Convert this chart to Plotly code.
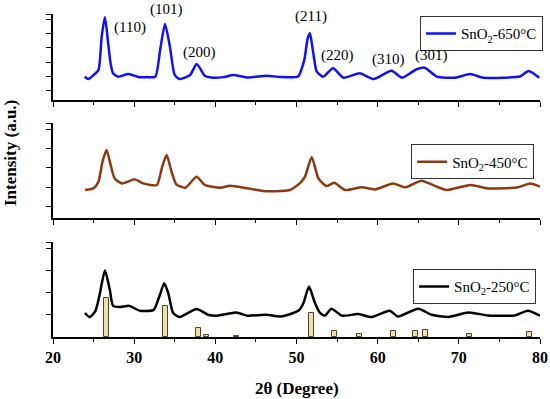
import plotly.graph_objects as go

# ---------------- data ----------------
x650 = [23.9, 24.35, 25.0, 25.6, 26.0, 26.4, 26.8, 27.1, 27.4, 28.0, 29.3, 30.5, 31.5, 32.6, 33.2, 33.8,
        34.4, 35.0, 35.6, 36.9, 37.7, 38.7, 39.5, 41.0, 42.2, 44.0, 46.3, 48.0, 50.2, 50.96, 51.38,
        51.66, 52.07, 52.5, 53.3, 54.5, 55.8, 57.8, 59.5, 61.7, 63.0, 64.8, 65.8, 67.3, 69.5, 71.4,
        73.0, 75.5, 77.5, 78.6, 79.9]
y650 = [0.98, 0.82, 1.10, 1.45, 3.78, 5.13, 3.31, 1.9, 1.22, 0.98, 1.17, 0.96, 0.95, 0.98, 2.85, 4.66,
        3.08, 1.10, 0.82, 1.10, 1.87, 1.05, 0.92, 0.95, 1.10, 0.92, 1.05, 0.96, 1.0, 2.15, 3.66,
        4.01, 2.62, 1.33, 0.98, 1.57, 0.91, 1.22, 0.82, 1.40, 0.91, 1.50, 1.61, 0.98, 0.91, 1.17,
        0.91, 0.91, 0.99, 1.38, 0.91]

x450 = [23.94, 24.97, 25.6, 26.1, 26.6, 27.1, 27.6, 28.5, 30.1, 31.1, 32.8, 33.4, 34.0, 34.6, 35.2,
        36.3, 37.7, 38.7, 40.6, 41.8, 43.9, 45.9, 48.0, 49.2, 50.4, 51.05, 51.87, 52.7, 53.7, 54.65,
        56.0, 58.0, 59.7, 61.9, 63.4, 65.4, 67.1, 68.5, 71.4, 73.6, 77.3, 78.8, 80.0]
y450 = [0.85, 0.93, 1.28, 2.32, 2.92, 2.15, 1.45, 1.19, 1.40, 1.19, 1.11, 1.97, 2.66, 1.80, 1.14,
        0.97, 1.54, 1.11, 0.97, 1.07, 0.94, 0.80, 0.80, 0.85, 1.19, 1.54, 2.55, 1.45, 1.05, 1.23,
        0.85, 0.99, 0.88, 1.19, 0.99, 1.33, 1.05, 0.85, 1.11, 0.93, 0.99, 1.19, 1.02]

x250 = [23.94, 24.5, 25.2, 25.7, 26.4, 27.0, 27.4, 28.25, 29.4, 30.7, 32.4, 33.1, 33.7, 34.2, 34.8,
        35.6, 37.7, 39.1, 40.2, 42.6, 43.9, 46.3, 48.0, 49.6, 50.3, 50.85, 51.54, 52.2, 52.9, 53.5,
        54.3, 55.6, 57.6, 59.3, 61.5, 62.5, 65.0, 66.65, 68.7, 71.2, 73.6, 76.9, 78.5, 80.0]
y250 = [1.08, 0.90, 1.15, 1.82, 2.99, 2.12, 1.40, 1.35, 1.40, 1.18, 1.22, 1.82, 2.42, 1.97, 1.08,
        0.90, 1.26, 1.00, 0.96, 1.10, 0.96, 1.00, 0.92, 1.08, 1.20, 1.52, 2.27, 1.60, 1.08, 0.96,
        1.27, 0.96, 1.03, 0.90, 1.18, 0.92, 1.27, 1.00, 0.90, 1.10, 0.97, 0.97, 1.18, 0.96]

ref_pos = [26.6, 33.9, 37.9, 38.9, 42.6, 51.8, 54.7, 57.8, 61.9, 64.7, 65.9, 71.3, 78.7]
ref_int = [1.75, 1.40, 0.40, 0.07, 0.03, 1.10, 0.28, 0.13, 0.25, 0.27, 0.33, 0.13, 0.21]

peak_labels = ["(110)", "(101)", "(200)", "(211)", "(220)", "(310)", "(301)"]
peak_label_x = [29.5, 34.0, 38.1, 51.8, 55.05, 61.3, 66.65]
peak_label_yp = [0.957, 1.015, 0.882, 0.991, 0.870, 0.858, 0.870]

series_names = ["SnO<sub>2</sub>-650°C", "SnO<sub>2</sub>-450°C", "SnO<sub>2</sub>-250°C"]
series_colors = ["#1212EE", "#8B3A12", "#000000"]

FONT = "Liberation Serif"

fig = go.Figure()

fig.add_trace(go.Bar(x=ref_pos, y=ref_int, width=0.6, xaxis="x", yaxis="y",
                     marker=dict(color="#F4E0A6", line=dict(color="#4a4530", width=1)),
                     showlegend=False))
fig.add_trace(go.Scatter(x=x250, y=y250, mode="lines", name=series_names[2], xaxis="x", yaxis="y",
                         line=dict(color=series_colors[2], width=2.5, shape="spline", smoothing=0.6),
                         legend="legend3"))
fig.add_trace(go.Scatter(x=x450, y=y450, mode="lines", name=series_names[1], xaxis="x2", yaxis="y2",
                         line=dict(color=series_colors[1], width=2.5, shape="spline", smoothing=0.6),
                         legend="legend2"))
fig.add_trace(go.Scatter(x=x650, y=y650, mode="lines", name=series_names[0], xaxis="x3", yaxis="y3",
                         line=dict(color=series_colors[0], width=2.5, shape="spline", smoothing=0.6),
                         legend="legend"))

xcommon = dict(range=[20, 80], dtick=10, ticks="outside", ticklen=5, tickwidth=1.3,
               showline=True, linecolor="black", linewidth=1.5, showgrid=False, zeroline=False,
               minor=dict(dtick=5, ticks="outside", ticklen=3, tickwidth=1.3, tickcolor="black"),
               tickcolor="black", automargin=False)
ycommon = dict(ticks="outside", ticklen=5, tickwidth=1.3, tickcolor="black", showline=True,
               linecolor="black", linewidth=1.5, showgrid=False, zeroline=False, showticklabels=False,
               automargin=False)

legcommon = dict(bordercolor="#333333", borderwidth=1, bgcolor="white",
                 font=dict(family=FONT, size=15, color="black"), xanchor="right", yanchor="middle",
                 tracegroupgap=0, itemwidth=30)

fig.update_layout(
    width=550, height=399, plot_bgcolor="white", paper_bgcolor="white",
    margin=dict(l=53, r=10, t=14, b=62, autoexpand=False),
    bargap=0,
    xaxis=dict(**xcommon, anchor="y", showticklabels=True,
               tickfont=dict(family=FONT, size=16, color="black", weight="bold")),
    xaxis2=dict(**xcommon, anchor="y2", matches="x", showticklabels=False),
    xaxis3=dict(**xcommon, anchor="y3", matches="x", showticklabels=False),
    yaxis=dict(**ycommon, domain=[0, 0.294], range=[0, 4.27], tickvals=[1, 2, 3, 4, 4.27]),
    yaxis2=dict(**ycommon, domain=[0.3675, 0.6616], range=[-0.62, 4.31], tickvals=[0, 1, 2, 3, 4, 4.31]),
    yaxis3=dict(**ycommon, domain=[0.7337, 1.0], range=[-0.65, 5.36], tickvals=[0, 1, 2, 3, 4, 5, 5.36]),
    legend=dict(**legcommon, x=1.006, y=0.9387),
    legend2=dict(**legcommon, x=0.988, y=0.542),
    legend3=dict(**legcommon, x=0.992, y=0.1557),
    showlegend=True,
)

for t, px, py in zip(peak_labels, peak_label_x, peak_label_yp):
    fig.add_annotation(x=px, y=py, xref="x3", yref="paper", text=t, showarrow=False,
                       xanchor="center", yanchor="middle",
                       font=dict(family=FONT, size=15, color="black"))

fig.add_annotation(x=-0.086, y=0.57, xref="paper", yref="paper", text="<b>Intensity (a.u.)</b>",
                   textangle=-90, showarrow=False, xanchor="center", yanchor="middle",
                   font=dict(family=FONT, size=17, color="black"))
fig.add_annotation(x=0.5, y=-0.158, xref="paper", yref="paper", text="<b>2θ (Degree)</b>",
                   showarrow=False, xanchor="center", yanchor="middle",
                   font=dict(family=FONT, size=17, color="black"))

fig.write_html("out.html", config={"displayModeBar": False},
               post_script="document.body.style.margin='0';document.body.style.overflow='hidden';")
